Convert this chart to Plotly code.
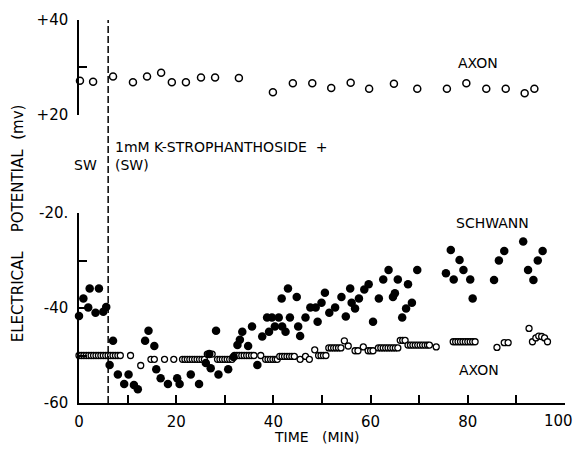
import plotly.graph_objects as go

# ---------------- data ----------------
axon_top_t = [0.2, 2.9, 7.0, 11.1, 14.0, 16.9, 19.1, 22.0, 25.1, 28.0, 32.9, 39.9, 44.0, 48.0,
              51.9, 55.9, 59.7, 64.8, 69.6, 75.7, 79.7, 83.8, 87.8, 91.7, 93.7]
axon_top_mv = [27.2, 27.0, 28.1, 26.9, 28.1, 28.9, 26.9, 26.9, 27.9, 27.9, 27.8, 24.8, 26.7, 26.7,
               25.7, 26.8, 25.5, 26.6, 25.5, 25.5, 26.7, 25.5, 25.5, 24.6, 25.5]

schwann_t = [0.0, 0.9, 1.9, 2.2, 3.4, 4.1, 5.0, 5.6, 6.3, 7.0, 8.0, 9.3, 10.2, 11.3, 12.1, 13.6,
             14.3, 15.5, 15.9, 16.8, 18.3, 20.2, 20.7, 23.0, 24.7, 26.1, 26.8, 27.1, 28.2, 28.7,
             30.7, 31.8, 32.6, 33.1, 33.6, 34.8, 35.6, 36.7, 37.7, 38.7, 39.1, 39.7, 40.3, 41.1,
             41.7, 41.8, 42.5, 43.0, 43.4, 44.8, 45.1, 45.5, 46.6, 47.6, 48.7, 49.1, 49.9, 50.6,
             51.5, 52.7, 54.0, 54.9, 55.8, 56.1, 56.8, 57.6, 58.7, 59.6, 60.5, 61.7, 62.6, 63.7,
             64.6, 65.0, 65.6, 66.5, 67.3, 67.7, 68.5, 69.6, 75.5, 76.5, 77.1, 78.3, 79.1, 80.5,
             81.0, 85.4, 86.4, 87.5, 91.4, 92.4, 93.5, 94.4, 95.4]
schwann_mv = [-41.7, -38.0, -39.9, -35.9, -41.0, -35.9, -40.8, -39.8, -52.0, -46.9, -54.0, -56.0,
              -54.0, -56.2, -57.1, -46.9, -44.8, -48.0, -52.9, -54.8, -56.0, -54.8, -56.0, -54.0,
              -56.0, -51.6, -49.7, -52.7, -44.8, -54.0, -52.9, -50.3, -47.8, -46.7, -45.0, -48.0,
              -43.9, -52.0, -46.0, -42.0, -45.0, -42.0, -43.9, -42.0, -38.0, -43.9, -45.0, -35.9,
              -42.0, -37.7, -43.9, -45.9, -42.0, -39.9, -39.9, -42.9, -38.9, -36.8, -41.0, -39.9,
              -37.7, -41.8, -35.9, -38.9, -40.1, -38.0, -36.1, -35.0, -42.9, -38.0, -34.0, -32.0,
              -37.7, -36.9, -34.0, -42.0, -40.1, -35.0, -38.9, -32.0, -32.7, -27.8, -34.0, -29.9,
              -32.0, -34.0, -38.0, -34.1, -30.0, -28.0, -26.0, -32.0, -34.1, -30.0, -28.0]

axon_low_t = [0.0, 0.5, 1.0, 1.5, 2.0, 2.5, 3.0, 3.5, 4.0, 4.5, 5.0, 5.5, 6.0, 6.5, 7.0, 7.5, 8.0, 8.5,
              10.6, 12.7, 14.8, 15.5, 17.6, 19.5,
              21.3, 21.8, 22.3, 22.8, 23.3, 23.8, 24.3, 24.8, 25.3, 25.8,
              26.4, 26.9, 27.4,
              28.5, 29.0, 29.5, 30.0, 30.5, 31.0, 31.5,
              32.0, 32.5, 33.0, 33.5, 34.0, 34.5, 35.0, 35.5, 36.0, 37.4,
              38.4, 38.9, 39.4, 39.9, 40.4, 40.8,
              41.3, 41.8, 42.3, 42.8, 43.3, 43.8, 44.3,
              45.5, 46.6, 47.4, 48.5,
              49.3, 49.8, 50.3, 50.8,
              51.4, 51.9, 52.4, 52.9, 53.4, 53.9,
              54.6, 55.4, 56.8, 57.4, 58.5, 59.5, 60.0, 60.5,
              61.6, 62.1, 62.6, 63.1, 63.6, 64.1, 64.6, 65.1, 65.6,
              66.1, 66.6, 67.1,
              67.7, 68.2, 68.7, 69.2, 69.7, 70.2, 70.7, 71.2, 71.7, 72.1,
              73.5,
              77.0, 77.5, 78.0, 78.5, 79.0, 79.5, 80.0, 80.5, 81.0, 81.5,
              86.0, 87.5, 88.3,
              92.6, 93.3, 94.0, 94.6, 95.2, 95.8, 96.4]
axon_low_mv = [-50.0] * 18 + \
    [-50.0, -52.1, -50.8, -50.8, -50.8, -50.8] + \
    [-50.8] * 10 + \
    [-49.7] * 3 + \
    [-50.8] * 7 + \
    [-50.0] * 10 + \
    [-50.8] * 6 + \
    [-50.2] * 7 + \
    [-50.8, -50.2, -50.8, -48.8] + \
    [-50.0] * 4 + \
    [-48.4] * 6 + \
    [-46.9, -48.0, -49.0, -49.0, -48.2, -49.0, -49.0, -49.0] + \
    [-48.4] * 9 + \
    [-46.8] * 3 + \
    [-47.8] * 10 + \
    [-48.2] + \
    [-47.1] * 10 + \
    [-48.3, -47.3, -47.3] + \
    [-44.3, -47.1, -46.3, -45.9, -46.0, -46.3, -47.1]

x_tickvals = [0, 10, 20, 30, 40, 50, 60, 70, 80, 90, 100]
x_ticktext = ["0", "", "20", "", "40", "", "60", "", "80", "", ""]
x_last_label = "100"
y_low_tickvals = [-60, -50, -40, -30, -20]
y_low_ticktext = ["-60", "", "-40", "", "-20."]
y_top_tickvals = [20, 30, 40]
y_top_ticktext = ["+20", "", "+40"]
drug_time = 6.0

FONT = "DejaVu Sans"

fig = go.Figure()

fig.add_trace(go.Scatter(
    x=axon_top_t, y=axon_top_mv, xaxis="x", yaxis="y2", mode="markers",
    marker=dict(symbol="circle", size=7, color="white", line=dict(color="black", width=1.5)),
    cliponaxis=False, showlegend=False))

fig.add_trace(go.Scatter(
    x=axon_low_t, y=axon_low_mv, xaxis="x", yaxis="y", mode="markers",
    marker=dict(symbol="circle", size=6, color="white", line=dict(color="black", width=1.3)),
    cliponaxis=False, showlegend=False))

fig.add_trace(go.Scatter(
    x=schwann_t, y=schwann_mv, xaxis="x", yaxis="y", mode="markers",
    marker=dict(symbol="circle", size=8.5, color="black"),
    cliponaxis=False, showlegend=False))

axis_common = dict(showline=True, linecolor="black", linewidth=1.5, ticks="inside",
                   tickcolor="black", tickwidth=1.5, ticklen=8, showgrid=False, zeroline=False,
                   automargin=False, ticklabeloverflow="allow",
                   tickfont=dict(family=FONT, size=15, color="black"))

fig.update_layout(
    width=576, height=450,
    margin=dict(l=79, r=11, t=20, b=47),
    paper_bgcolor="white", plot_bgcolor="white",
    font=dict(family=FONT, color="black"),
    xaxis=dict(range=[0, 100], domain=[0, 1], anchor="y", tickvals=x_tickvals,
               ticktext=x_ticktext, ticklabelstandoff=4, **axis_common),
    yaxis=dict(range=[-60, -20], domain=[0, 0.496], anchor="x", tickvals=y_low_tickvals,
               ticktext=y_low_ticktext, ticklabelstandoff=6, **axis_common),
    yaxis2=dict(range=[20, 40], domain=[0.752, 1], anchor="x", tickvals=y_top_tickvals,
                ticktext=y_top_ticktext, ticklabelstandoff=6, **axis_common),
    shapes=[dict(type="line", xref="x", yref="paper", x0=drug_time, x1=drug_time, y0=0, y1=1,
                 line=dict(color="black", width=1.5, dash="7px,3px"))],
)

ann_font = dict(family=FONT, size=14, color="black")
# last x tick label, kept inside the page (as in the reference, it sits just left of its tick)
fig.add_annotation(x=x_tickvals[-1], y=0, xref="x", yref="paper", xanchor="right", xshift=10,
                   yanchor="middle", yshift=-18, text=x_last_label, showarrow=False,
                   font=dict(family=FONT, size=15, color="black"))
fig.add_annotation(x=82.1, y=30.9, xref="x", yref="y2", text="AXON", showarrow=False, font=ann_font)
fig.add_annotation(x=85.0, y=-22.1, xref="x", yref="y", text="SCHWANN", showarrow=False, font=ann_font)
fig.add_annotation(x=82.3, y=-53.1, xref="x", yref="y", text="AXON", showarrow=False, font=ann_font)
fig.add_annotation(x=drug_time, y=0.644, xref="x", yref="paper", xanchor="left", xshift=5,
                   align="left", yanchor="middle",
                   text="1mM K-STROPHANTHOSIDE\u00a0\u00a0+<br>(SW)", showarrow=False, font=ann_font)
fig.add_annotation(x=drug_time, y=0.622, xref="x", yref="paper", xanchor="right", xshift=-9,
                   text="SW", showarrow=False, font=ann_font)
fig.add_annotation(x=0.49, y=-0.09, xref="paper", yref="paper", xanchor="center", yanchor="middle",
                   text="TIME\u00a0\u00a0\u00a0(MIN)", showarrow=False, font=ann_font)
fig.add_annotation(x=-0.125, y=0.47, xref="paper", yref="paper", textangle=-90,
                   xanchor="center", yanchor="middle",
                   text="ELECTRICAL\u00a0\u00a0\u00a0\u00a0POTENTIAL\u00a0\u00a0(mv)",
                   showarrow=False, font=dict(family=FONT, size=15, color="black"))

fig.write_html("out.html", post_script="document.body.style.margin='0';",
               config={"displayModeBar": False})
